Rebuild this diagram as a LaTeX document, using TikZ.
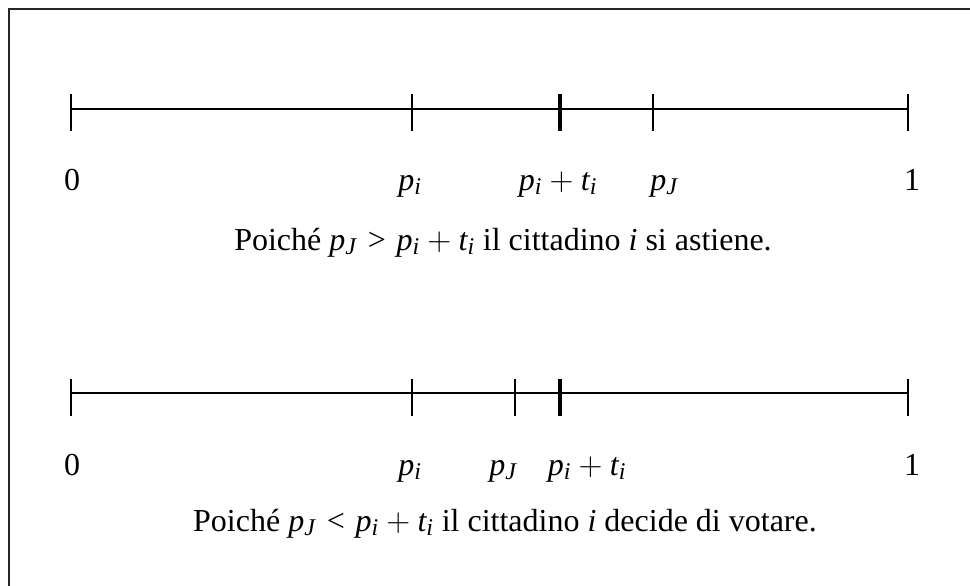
\documentclass[tikz,border=0pt]{standalone}
\usepackage{fontspec}
\setmainfont{Liberation Serif}
\DeclareSymbolFont{letters}{TU}{\rmdefault}{m}{it}
\DeclareMathSizes{24}{24}{18}{14}
\usetikzlibrary{positioning}

\begin{document}
\begin{tikzpicture}[x=0.75pt, y=-0.75pt,
    every node/.style={font=\fontsize{24}{28}\selectfont, inner sep=0pt, anchor=base},
    axis/.style={line width=1.2pt},
    tickline/.style={line width=1.2pt},
    boundtick/.style={line width=2.4pt}]
    \useasboundingbox (0,0) rectangle (970,585);
    \clip (0,0) rectangle (970,585);
    \draw[line width=1.5pt, black!85] (9,9) rectangle (990,600);

    % Top Line: citizen abstains
    \coordinate (startA) at (71,109);
    \coordinate (endA) at (908,109);
    \draw[axis] (startA) -- (endA);
    \foreach \x in {71,412,653,908}
        \draw[tickline] (\x,94) -- (\x,131);
    \draw[boundtick] (560,94) -- (560,131);

    \node (zeroA) at (72,190) {0};
    \node (piA) at (410,190) {$p_i$};
    \node (ptA) at (558,190) {$p_i + t_i$};
    \node (pjA) at (664,190) {$p_J$};
    \node (oneA) at (912,190) {1};
    \node (capA) at (503,250) {Poiché $p_J > p_i + t_i$ il cittadino $i$ si astiene.};

    % Bottom Line: citizen votes
    \coordinate (startB) at (71,393);
    \coordinate (endB) at (908,393);
    \draw[axis] (startB) -- (endB);
    \foreach \x in {71,412,515,908}
        \draw[tickline] (\x,379) -- (\x,416);
    \draw[boundtick] (560,379) -- (560,416);

    \node (zeroB) at (72,475) {0};
    \node (piB) at (410,475) {$p_i$};
    \node (pjB) at (503,475) {$p_J$};
    \node (ptB) at (587,475) {$p_i + t_i$};
    \node (oneB) at (912,475) {1};
    \node (capB) at (505,531) {Poiché $p_J < p_i + t_i$ il cittadino $i$ decide di votare.};

\end{tikzpicture}
\end{document}
